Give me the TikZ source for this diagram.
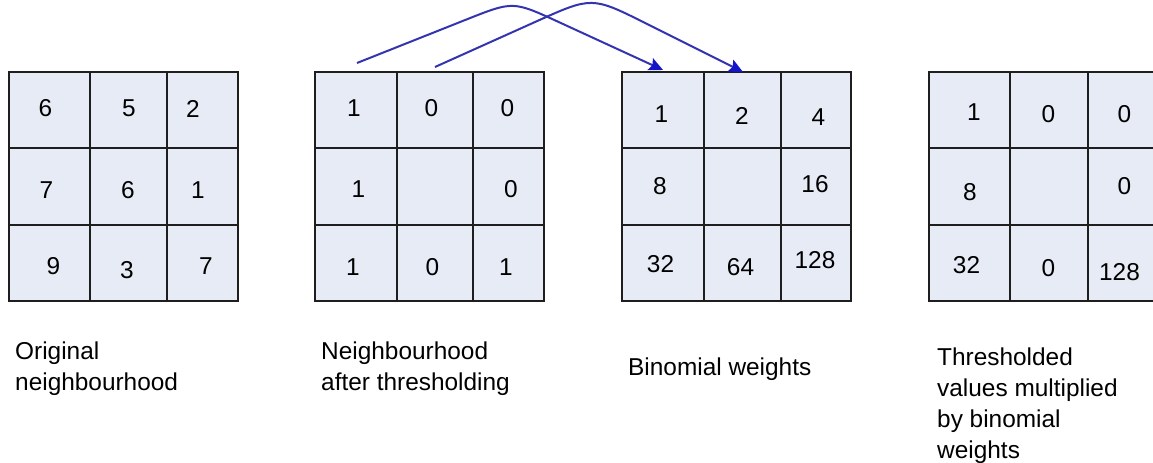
\documentclass[tikz,border=0pt]{standalone}
\usepackage{fontspec}
\setmainfont{Liberation Sans}
\usetikzlibrary{arrows.meta,calc}
\definecolor{cellbg}{RGB}{231,235,246}
\definecolor{gridcol}{RGB}{30,30,30}
\definecolor{linkcol}{RGB}{52,52,176}
\definecolor{tipcol}{RGB}{20,20,200}
\begin{document}
\begin{tikzpicture}[x=1bp,y=-1bp,
  cellbox/.style={fill=cellbg,draw=gridcol,line width=1.6bp},
  gridline/.style={draw=gridcol,line width=1.6bp},
  num/.style={inner sep=0pt,font=\fontsize{24.5}{24.5}\selectfont},
  % a multi-line caption sits on the baseline of its last line
  caption/.style={inner sep=0pt,anchor=base west,align=left,
    font=\fontsize{24.5}{31.3}\selectfont},
  link/.style={draw=linkcol,line width=2bp,
    -{Stealth[length=14bp,width=13bp,inset=2.5bp,color=tipcol]}}]
\useasboundingbox (0,0) rectangle (1153,463);
\fill[white] (0,0) rectangle (1153,463);
\clip (0,0) rectangle (1153,463);

% the four 3x3 grids: left edge / inner lines / right edge
\foreach \a/\b/\c/\d in {9/90/167/238, 315/397/473/544,
                         622/704/781/851, 929/1010/1088/1160} {
  \path[cellbox] (\a,72) rectangle (\d,301);
  \path[gridline] (\b,72) -- (\b,301) (\c,72) -- (\c,301)
                  (\a,148) -- (\d,148) (\a,225) -- (\d,225);
}

% original neighbourhood
\node[num] (o11) at (45.5,108.5) {6};
\node[num] (o12) at (129,108.5) {5};
\node[num] (o13) at (193,108.5) {2};
\node[num] (o21) at (46.5,190) {7};
\node[num] (o22) at (128,190) {6};
\node[num] (o23) at (198,190) {1};
\node[num] (o31) at (53.5,266) {9};
\node[num] (o32) at (127,270) {3};
\node[num] (o33) at (206,266) {7};

% after thresholding
\node[num] (t11) at (354,108) {1};
\node[num] (t12) at (431.5,108) {0};
\node[num] (t13) at (507.5,108) {0};
\node[num] (t21) at (358.5,189) {1};
\node[num] (t23) at (511,189) {0};
\node[num] (t31) at (353,267.5) {1};
\node[num] (t32) at (432.5,267.5) {0};
\node[num] (t33) at (506,267.5) {1};

% binomial weights
\node[num] (w11) at (661.5,114) {1};
\node[num] (w12) at (742,116) {2};
\node[num] (w13) at (818.5,117) {4};
\node[num] (w21) at (660,186) {8};
\node[num] (w23) at (815,184) {16};
\node[num] (w31) at (660.5,264) {32};
\node[num] (w32) at (740.5,267.5) {64};
\node[num] (w33) at (815,260) {128};

% products
\node[num] (p11) at (974,112.5) {1};
\node[num] (p12) at (1048.5,114) {0};
\node[num] (p13) at (1124.5,114) {0};
\node[num] (p21) at (970,192.5) {8};
\node[num] (p23) at (1124.5,186) {0};
\node[num] (p31) at (966.5,265) {32};
\node[num] (p32) at (1048.5,268.5) {0};
\node[num] (p33) at (1119.5,272.5) {128};

% captions
\node[caption] (c1) at (15,391) {Original\\neighbourhood};
\node[caption] (c2) at (321,391) {Neighbourhood\\after thresholding};
\node[caption] (c3) at (628,376) {Binomial weights};
\node[caption] (c4) at (937,459) {Thresholded\\values multiplied\\by binomial\\weights};

% arcs carrying thresholded bits onto their weights
\coordinate (s1) at (357,63);
\coordinate (k1) at (513,1);
\coordinate (e1) at (663,70);
\coordinate (s2) at (435,67);
\coordinate (k2) at (592,-3.6);
\coordinate (e2) at (743,72);
\draw[link] (s1) -- ($(k1)!50bp!(s1)$) .. controls (k1) .. ($(k1)!50bp!(e1)$) -- (e1);
\draw[link] (s2) -- ($(k2)!61bp!(s2)$) .. controls (k2) .. ($(k2)!61bp!(e2)$) -- (e2);
\end{tikzpicture}
\end{document}
